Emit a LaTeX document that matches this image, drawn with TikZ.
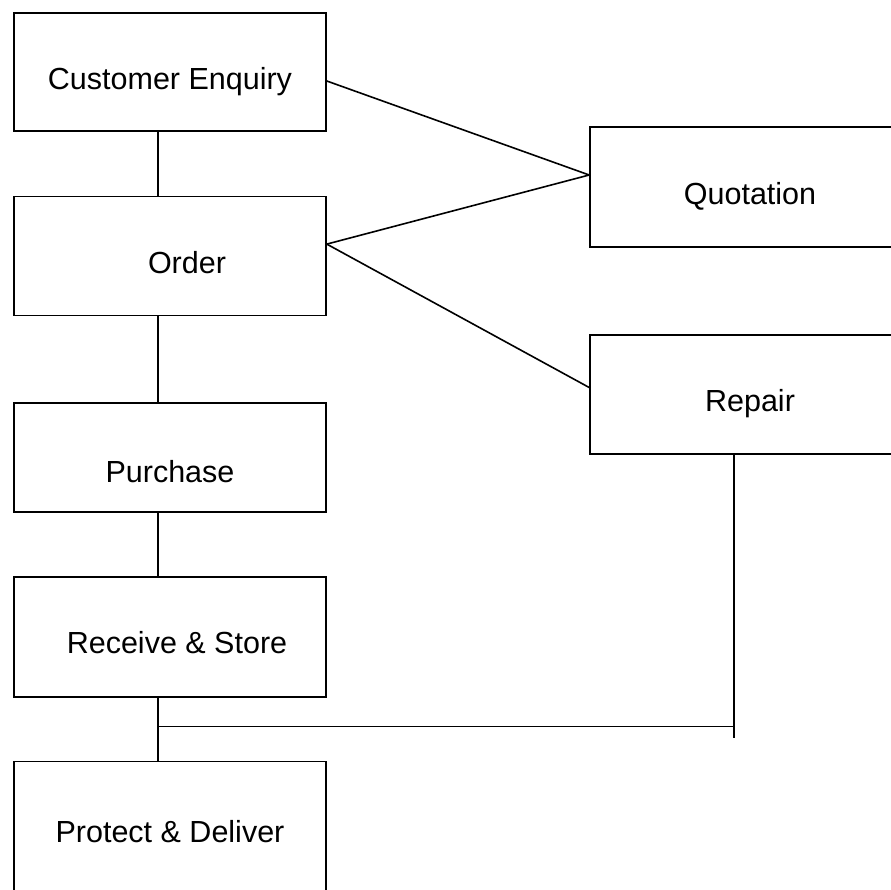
\documentclass[tikz,border=0pt]{standalone}
\usepackage{fontspec}
\setmainfont{Liberation Sans}
\usetikzlibrary{positioning,calc}

\begin{document}
\begin{tikzpicture}[x=1pt,y=-1pt,line width=1.6pt,node distance=65pt]
  \tikzstyle{block}=[draw,rectangle,minimum width=312pt,inner sep=0pt,
                     text height=34pt,text depth=0pt,
                     font=\fontsize{30.5}{36}\selectfont]
  \tikzstyle{side}=[block,minimum width=320pt]

  \useasboundingbox (0,0) rectangle (891,889);
  \clip (0,0) rectangle (891,889);

  % left column
  \node[block,minimum height=118pt] (enq) at (170,72) {Customer Enquiry};
  \node[block,minimum height=119pt] (order) [below=64pt of enq]   {\hspace*{34pt}Order};
  \node[block,minimum height=109pt,text height=50pt] (purch) [below=86pt of order] {Purchase};
  \node[block,minimum height=120pt] (recv)  [below=63pt of purch] {\hspace*{14pt}Receive \& Store};
  \node[block,minimum height=140pt,text height=22pt] (prot) [below=63pt of recv] {Protect \& Deliver};

  % right column
  \node[side,minimum height=120pt] (quot) at (750,187)   {Quotation};
  \node[side,minimum height=119pt] (rep)  at (750,394.5) {Repair};

  \path ([yshift=-9pt]enq.east)   edge ([yshift=12pt]quot.west)
        ([yshift=12pt]order.east) edge ([yshift=12pt]quot.west)
        ([yshift=12pt]order.east) edge ([yshift=7pt]rep.west);

  \path ([xshift=-12pt]enq.south)   edge ([xshift=-12pt]order.north)
        ([xshift=-12pt]order.south) edge ([xshift=-12pt]purch.north)
        ([xshift=-12pt]purch.south) edge ([xshift=-12pt]recv.north)
        ([xshift=-12pt]recv.south)  edge ([xshift=-12pt]prot.north);

  \coordinate (jn) at ($(recv.south)!0.46!(prot.north)+(-12,0)$);
  \coordinate (repfoot) at ([xshift=-16pt]rep.south);
  \coordinate (reptail) at ($(repfoot |- jn)+(0,11)$);

  \draw (repfoot) -- (reptail);
  \draw (jn) -- (repfoot |- jn);
\end{tikzpicture}
\end{document}
